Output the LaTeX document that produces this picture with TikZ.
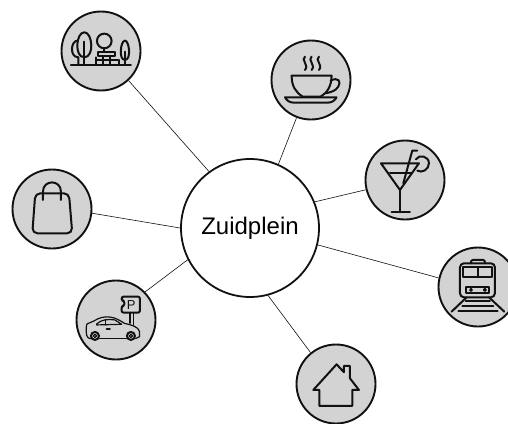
\documentclass[tikz,border=0pt]{standalone}
\usepackage{fontspec}
\setmainfont{Liberation Sans}
\definecolor{disc}{HTML}{D2D3D2}
\definecolor{ink}{HTML}{111111}
\tikzset{
  hub/.style={circle,draw=ink,line width=1.8pt,fill=white,minimum size=138pt,inner sep=0pt,font=\fontsize{24}{28}\selectfont},
  spot/.style={circle,draw=ink,line width=1.9pt,fill=disc,minimum size=79pt,inner sep=0pt},
  link/.style={draw=ink,line width=0.6pt},
  icon/.style={draw=ink,line width=2pt,line join=round,line cap=round},
  thin icon/.style={draw=ink,line width=1.2pt,line join=round,line cap=round}
}
\begin{document}
\begin{tikzpicture}[x=1pt,y=-1pt]
\useasboundingbox (0,0) rectangle (508,423);
\path[fill=white] (0,0) rectangle (508,423);
\coordinate (cHub) at (250,228);
\coordinate (cPark) at (101,51);
\coordinate (cCoffee) at (311,80);
\coordinate (cBar) at (405,180);
\coordinate (cTrain) at (478,287);
\coordinate (cHome) at (336,384);
\coordinate (cCar) at (116,320);
\coordinate (cBag) at (52,209);
\node[spot] (park) at (cPark) {};
\node[spot] (coffee) at (cCoffee) {};
\node[spot] (bar) at (cBar) {};
\node[spot] (train) at (cTrain) {};
\node[spot] (home) at (cHome) {};
\node[spot] (car) at (cCar) {};
\node[spot] (bag) at (cBag) {};
\node[hub] (hub) at (cHub) {Zuidplein};
\draw[link] (hub.126) -- (park.-47);
\draw[link] (hub.66) -- (coffee.-111);
\draw[link] (hub.22) -- (bar.194);
\draw[link] (hub.-14) -- (train.167);
\draw[link] (hub.-75) -- (home.129);
\draw[link] (hub.207) -- (car.44);
\draw[link] (hub.180) -- (bag.-6);
% park
\begin{scope}[shift={(50,0)},x=0.333pt,y=-0.333pt]
\draw[icon] (63,195) -- (243,195);
\draw[icon] (103,195) -- (103,125);
\draw[icon] (103,172) .. controls (72,172) and (78,97) .. (103,97) .. controls (128,97) and (134,172) .. (103,172);
\draw[icon] (83,122) .. controls (62,122) and (58,172) .. (85,172) (85,172) -- (85,195);
\draw[icon] (163,123) circle[radius=22];
\draw[icon] (163,145) -- (163,155);
\draw[icon] (145,155) rectangle (195,168);
\draw[icon] (138,180) -- (203,180);
\draw[icon] (160,168) -- (160,195) (180,168) -- (180,195);
\draw[icon] (137,172) -- (137,195) (206,180) -- (206,195);
\draw[icon] (225,195) -- (225,155);
\draw[icon] (225,180) .. controls (205,180) and (212,122) .. (225,122) .. controls (238,122) and (245,180) .. (225,180);
\end{scope}
% coffee
\begin{scope}[shift={(260,35)},x=0.333pt,y=-0.333pt]
\foreach \s in {135,155,177}{
\draw[icon] (\s,65) .. controls (\s-14,75) and (\s+14,90) .. (\s,105);}
\draw[icon] (95,122) -- (215,122) .. controls (215,155) and (200,175) .. (182,185) -- (128,185) .. controls (108,172) and (95,155) .. (95,122) -- cycle;
\draw[icon] (212,137) .. controls (235,125) and (245,140) .. (235,155) .. controls (228,168) and (212,172) .. (197,175);
\draw[icon] (75,187) -- (230,187) .. controls (225,197) and (215,203) .. (205,203) -- (100,203) .. controls (90,203) and (80,197) .. (75,187) -- cycle;
\end{scope}
% cocktail
\begin{scope}[shift={(355,130)},x=0.333pt,y=-0.333pt]
\draw[icon] (78,100) -- (192,100) -- (135,180) -- cycle;
\draw[icon] (135,180) -- (135,245);
\draw[icon] (110,245) -- (165,245);
\draw[icon] (105,130) -- (170,130);
\draw[icon] (145,160) -- (172,62) -- (187,62);
\draw[icon] (183,88) .. controls (192,72) and (222,78) .. (222,100) .. controls (222,120) and (200,130) .. (187,122);
\end{scope}
% train
\begin{scope}[shift={(425,240)},x=0.333pt,y=-0.333pt]
\draw[icon,rounded corners=4pt] (105,172) -- (105,70) -- (210,70) -- (210,172) -- cycle;
\draw[icon,rounded corners=2pt] (138,70) -- (138,60) -- (180,60) -- (180,70);
\draw[icon] (115,82) rectangle (200,112);
\draw[icon] (158,82) -- (158,112);
\draw[icon] (122,140) rectangle (192,160);
\draw[icon] (138,150) circle[radius=3];
\draw[icon] (180,150) circle[radius=3];
\draw[icon] (125,172) -- (80,215);
\draw[icon] (192,172) -- (238,215);
\draw[icon] (122,183) -- (195,183);
\draw[icon] (112,197) -- (205,197);
\draw[icon] (100,212) -- (218,212);
\end{scope}
% home
\begin{scope}[shift={(285,335)},x=0.333pt,y=-0.333pt]
\draw[icon] (85,165) -- (155,88) -- (177,112) -- (177,93) -- (195,93) -- (195,130) -- (222,165) -- (202,165) -- (202,213) -- (103,213) -- (103,165) -- cycle;
\end{scope}
% car
\begin{scope}[shift={(65,270)},x=0.333pt,y=-0.333pt]
\draw[icon,rounded corners=2pt] (180,80) -- (225,80) -- (225,128) -- (170,128) -- (170,108) -- (178,108) -- (178,92) -- (170,92) -- (170,80) -- cycle;
\node[font=\fontsize{13}{13}\selectfont,text=ink,inner sep=0pt] (signP) at (199,104) {P};
\draw[thin icon] (195,128) -- (195,160) (205,128) -- (205,165);
\draw[thin icon] (78,206) -- (70,204) .. controls (62,200) and (62,170) .. (66,162) .. controls (80,156) and (90,152) .. (100,146) .. controls (125,136) and (150,140) .. (178,160) .. controls (200,165) and (220,170) .. (224,185) -- (224,200) -- (212,206);
\draw[thin icon] (104,206) -- (185,206);
\draw[thin icon] (95,162) .. controls (110,148) and (130,147) .. (150,150) -- (170,163) -- (95,165) -- cycle;
\draw[thin icon] (122,150) -- (122,165);
\draw[icon] (125,178) -- (135,178);
\draw[icon] (90,198) circle[radius=12];
\draw[thin icon] (90,198) circle[radius=5];
\draw[icon] (198,198) circle[radius=12];
\draw[thin icon] (198,198) circle[radius=5];
\end{scope}
% bag
\begin{scope}[shift={(0,165)},x=0.333pt,y=-0.333pt]
\draw[icon,rounded corners=5pt] (106,85) -- (207,85) -- (217,205) -- (97,205) -- cycle;
\draw[icon] (129,105) -- (129,80) .. controls (129,43) and (183,43) .. (183,80) -- (183,105);
\end{scope}
\end{tikzpicture}
\end{document}
